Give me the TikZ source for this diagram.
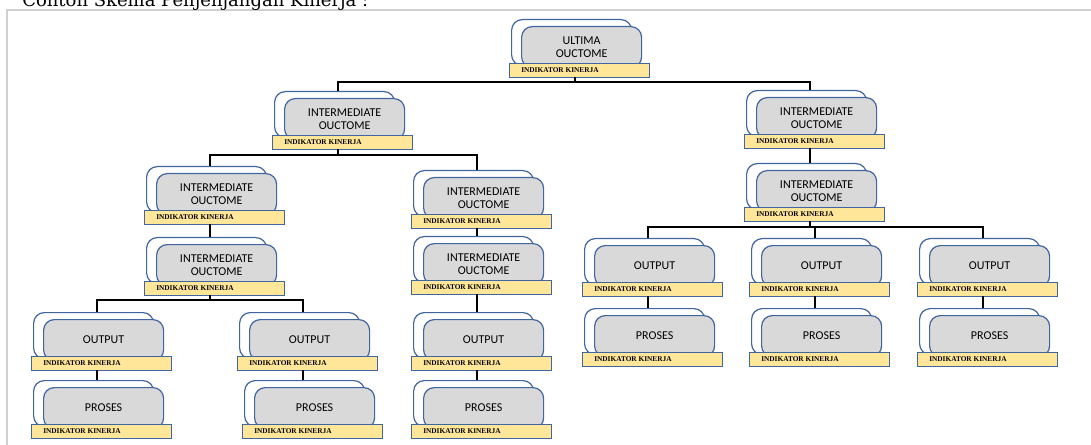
\documentclass[tikz,border=0pt]{standalone}
\usepackage{fontspec}
\setsansfont{Carlito}
\newfontfamily\judulfont{DejaVu Serif}
\newfontfamily\ikfont{Liberation Serif}
\usetikzlibrary{calc}

\definecolor{biru}{HTML}{41669F}
\definecolor{abu}{HTML}{D9D9D9}
\definecolor{kuning}{HTML}{FFE699}
\definecolor{bingkai}{HTML}{D0D0D0}

\tikzset{
    kotak/.style={draw=biru, line width=0.9pt, rounded corners=8pt, minimum width=90pt, inner sep=0pt, anchor=north west},
    belakang/.style={kotak, fill=white, minimum height=34.5pt},
    depan/.style={kotak, fill=abu, minimum height=30.75pt, align=center, font=\sffamily\fontsize{9}{9.5}\selectfont},
    indikator/.style={draw=biru, line width=0.9pt, fill=kuning, minimum width=105pt, minimum height=10.5pt, inner sep=0pt, anchor=north west},
    ik/.style={anchor=west, inner sep=0pt, font=\ikfont\bfseries\fontsize{5.5}{6}\selectfont},
    hubung/.style={line width=2.2pt},
}

% #1 nama, #2 x garis, #3 y atas pita, #4 teks kotak
\newcommand{\kinerja}[4]{
    \node[belakang] (#1-b) at ({#2-64},{#3-44}) {};
    \node[depan] (#1-f) at ({#2-54},{#3-37}) {#4};
    \node[indikator] (#1) at ({#2-66},{#3}) {};
    \node[ik] (#1-ik) at ($(#1.west)+(12,0)$) {INDIKATOR KINERJA};
    \coordinate (#1-in) at ({#2},{#3-44});
    \coordinate (#1-out) at ({#2},{#3+14});
}

\begin{document}
\begin{tikzpicture}[x=0.75pt,y=-0.75pt]
    \useasboundingbox (0,0) rectangle (1091,445);
    \draw[bingkai, line width=0.8pt] (7,445) -- (7,10) -- (1091,10);
    \node[anchor=base west, inner sep=0pt, font=\judulfont\fontsize{13.5}{15}\selectfont] (judul) at (22,7) {Contoh Skema Penjenjangan Kinerja :};

    \kinerja{ult}{575}{63}{ULTIMA\\OUCTOME}
    \kinerja{ima}{338}{135}{INTERMEDIATE\\OUCTOME}
    \kinerja{imb}{810}{134}{INTERMEDIATE\\OUCTOME}
    \kinerja{ima1}{210}{210}{INTERMEDIATE\\OUCTOME}
    \kinerja{ima1a}{210}{281}{INTERMEDIATE\\OUCTOME}
    \kinerja{ima2}{477}{214}{INTERMEDIATE\\OUCTOME}
    \kinerja{ima2a}{477}{280}{INTERMEDIATE\\OUCTOME}
    \kinerja{imb1}{810}{207}{INTERMEDIATE\\OUCTOME}

    \kinerja{out1}{97}{356}{OUTPUT}
    \kinerja{pro1}{97}{424}{PROSES}
    \kinerja{out2}{303}{356}{OUTPUT}
    \kinerja{pro2}{308}{424}{PROSES}
    \kinerja{out3}{477}{356}{OUTPUT}
    \kinerja{pro3}{477}{424}{PROSES}
    \kinerja{out4}{648}{282}{OUTPUT}
    \kinerja{pro4}{648}{352}{PROSES}
    \kinerja{out5}{815}{282}{OUTPUT}
    \kinerja{pro5}{815}{352}{PROSES}
    \kinerja{out6}{983}{282}{OUTPUT}
    \kinerja{pro6}{983}{352}{PROSES}

    \coordinate (bus1) at (0,82);
    \coordinate (bus2) at (0,155);
    \coordinate (bus3) at (0,300);
    \coordinate (bus4) at (0,227);

    \draw[hubung] (ult-out) -- (ult-out |- bus1) -| (ima-in);
    \draw[hubung] (ult-out) -- (ult-out |- bus1) -| (imb-in);
    \draw[hubung] (ima-out) -- (ima-out |- bus2) -| (ima1-in);
    \draw[hubung] (ima-out) -- (ima-out |- bus2) -| (ima2-in);
    \draw[hubung] (ima1-out) -- (ima1a-in);
    \draw[hubung] (ima1a-out) -- (ima1a-out |- bus3) -| (out1-in);
    \draw[hubung] (ima1a-out) -- (ima1a-out |- bus3) -| (out2-in);
    \draw[hubung] (ima2-out) -- (ima2a-in);
    \draw[hubung] (ima2a-out) -- (out3-in);
    \draw[hubung] (imb-out) -- (imb1-in);
    \draw[hubung] (imb1-out) -- (imb1-out |- bus4) -| (out4-in);
    \draw[hubung] (imb1-out) -- (imb1-out |- bus4) -| (out5-in);
    \draw[hubung] (imb1-out) -- (imb1-out |- bus4) -| (out6-in);
    \draw[hubung] (out1-out) -- (pro1-in);
    \draw[hubung] (out2-out) -- (out2-out |- pro2-in);
    \draw[hubung] (out3-out) -- (pro3-in);
    \draw[hubung] (out4-out) -- (pro4-in);
    \draw[hubung] (out5-out) -- (pro5-in);
    \draw[hubung] (out6-out) -- (pro6-in);
\end{tikzpicture}
\end{document}
